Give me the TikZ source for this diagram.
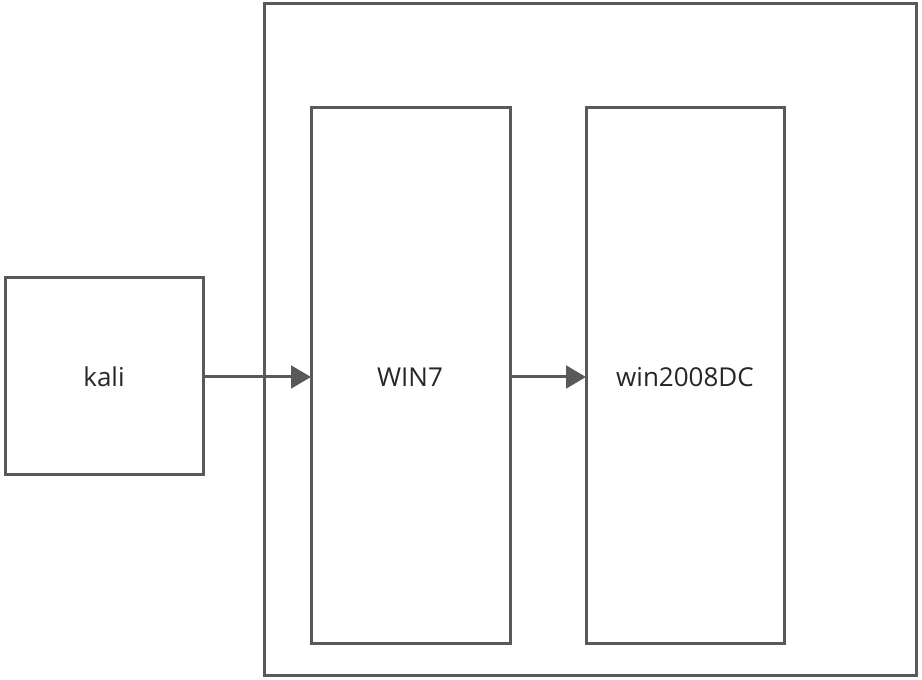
\documentclass[tikz,border=0pt]{standalone}
\usepackage{fontspec}
\setmainfont{Open Sans}
\usetikzlibrary{arrows.meta}

\definecolor{linegray}{HTML}{595959}
\tikzset{
	box/.style={draw=linegray, line width=2.25pt, minimum width=0, inner sep=0},
	link/.style={draw=linegray, line width=2.25pt, -{Triangle[length=15pt,width=17pt]}},
	lbl/.style={font=\fontsize{19.5}{23}\selectfont, text=black!85}
}

\begin{document}
\begin{tikzpicture}[x=0.75pt,y=0.75pt,yscale=-1,xscale=1]
		\useasboundingbox (0,0) rectangle (922,680);

		\draw [box] (264,4) rectangle (916,676);

		\draw [box] (5,278) rectangle (203,475);
		\node [lbl] (kali) at (104,377) {kali};
		\coordinate (kaliR) at (203,377);

		\draw [box] (311,108) rectangle (510,644);
		\node [lbl] (win7) at (410,377) {WIN7};
		\coordinate (win7L) at (311,377);
		\coordinate (win7R) at (510,377);

		\draw [box] (586,108) rectangle (784,644);
		\node [lbl] (dc) at (685,377) {win2008DC};
		\coordinate (dcL) at (586,377);

		\draw [link] (kaliR) -- (win7L);
		\draw [link] (win7R) -- (dcL);
		\end{tikzpicture}
\end{document}
